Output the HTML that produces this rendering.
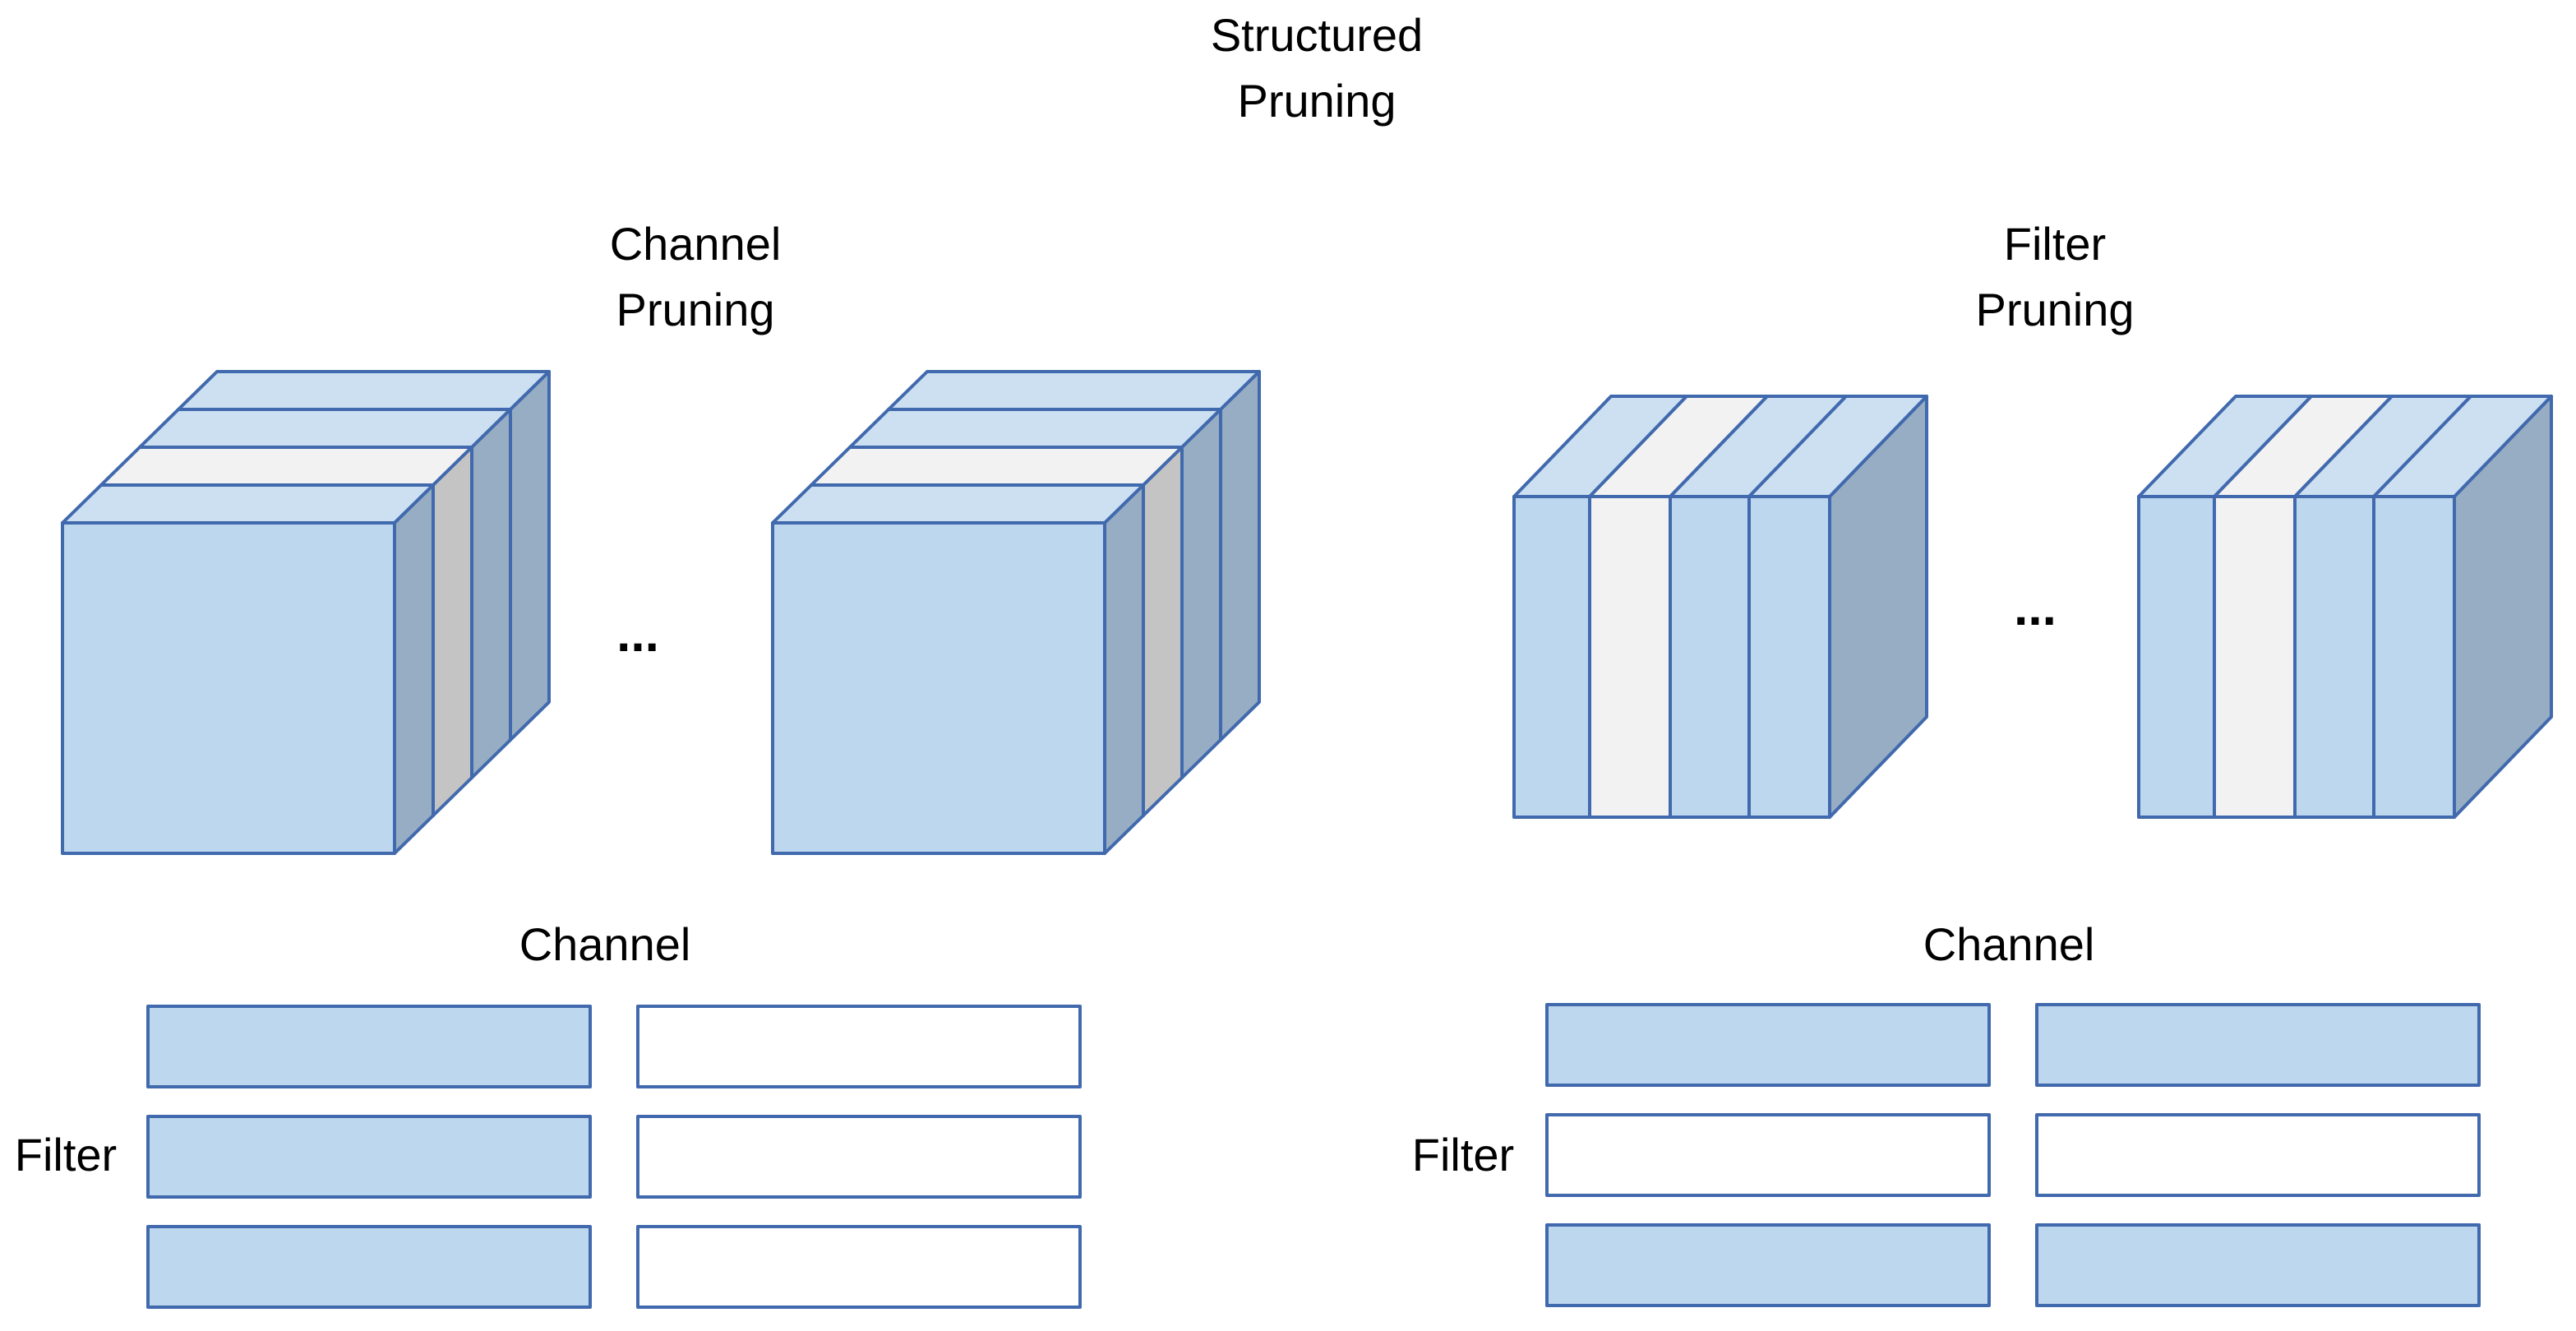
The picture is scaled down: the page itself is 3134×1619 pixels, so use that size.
<!DOCTYPE html>
<html><head><meta charset="utf-8"><style>
html,body{margin:0;padding:0;background:#fff;width:3134px;height:1619px;overflow:hidden}
svg{display:block}
text{font-family:"Liberation Sans",sans-serif;font-size:56px;fill:#000}
</style></head><body>
<svg id="s" width="3134" height="1619" viewBox="0 0 3134 1619" xmlns="http://www.w3.org/2000/svg">
<g text-anchor="middle">
<text x="1602" y="62">Structured</text>
<text x="1602" y="142">Pruning</text>
<text x="846" y="316">Channel</text>
<text x="846" y="396">Pruning</text>
<text x="2500" y="316">Filter</text>
<text x="2500" y="396">Pruning</text>
<text x="776" y="792" style="font-weight:bold;font-size:62px">...</text>
<text x="2476" y="760" style="font-weight:bold;font-size:62px">...</text>
<text x="736" y="1168">Channel</text>
<text x="2444" y="1168">Channel</text>
<text x="80" y="1424">Filter</text>
<text x="1780" y="1424">Filter</text>
</g>
<g id="shapes" stroke="#4169ad" stroke-width="4" stroke-linejoin="round"></g>
</svg>
<script>
var g=document.getElementById('shapes'),h='';
function poly(p,f){h+='<polygon points="'+p.map(function(q){return q.join(',')}).join(' ')+'" fill="'+f+'"/>';}
function rect(x,y,w,hh,f){h+='<rect x="'+x+'" y="'+y+'" width="'+w+'" height="'+hh+'" fill="'+f+'"/>';}
var BF='#bdd7ee',BT='#cce0f2',BS='#97adc3',WT='#f2f2f2',GS='#c4c4c4';
function chCube(x0){
  var L=x0,R=x0+404,T=636,B=1038,dx=47,dy=-46;
  for(var k=3;k>=0;k--){
    var ox=k*dx,oy=k*dy,top=(k==1)?WT:BT,side=(k==1)?GS:BS;
    poly([[L+ox,T+oy],[R+ox,T+oy],[R+ox+dx,T+oy+dy],[L+ox+dx,T+oy+dy]],top);
    poly([[R+ox,T+oy],[R+ox+dx,T+oy+dy],[R+ox+dx,B+oy+dy],[R+ox,B+oy]],side);
    rect(L+ox,T+oy,404,402,BF);
  }
}
chCube(76);chCube(940);
function fCube(x0){
  var cols=[0,92,190,286,384],T=604,B=994,dx=118,dy=-122,R=x0+384;
  poly([[R,T],[R+dx,T+dy],[R+dx,B+dy],[R,B]],BS);
  for(var i=0;i<4;i++){
    var a=x0+cols[i],b=x0+cols[i+1],f=(i==1);
    poly([[a,T],[b,T],[b+dx,T+dy],[a+dx,T+dy]],f?WT:BT);
    rect(a,T,b-a,B-T,f?WT:BF);
  }
}
fCube(1842);fCube(2602);
var rowsL=[1224,1358,1492],rowsR=[1222,1356,1490];
for(var i=0;i<3;i++){
  rect(180,rowsL[i],538,98,BF);
  rect(776,rowsL[i],538,98,'#fff');
  rect(1882,rowsR[i],538,98,i==1?'#fff':BF);
  rect(2478,rowsR[i],538,98,i==1?'#fff':BF);
}
g.innerHTML=h;
</script>
</body></html>
